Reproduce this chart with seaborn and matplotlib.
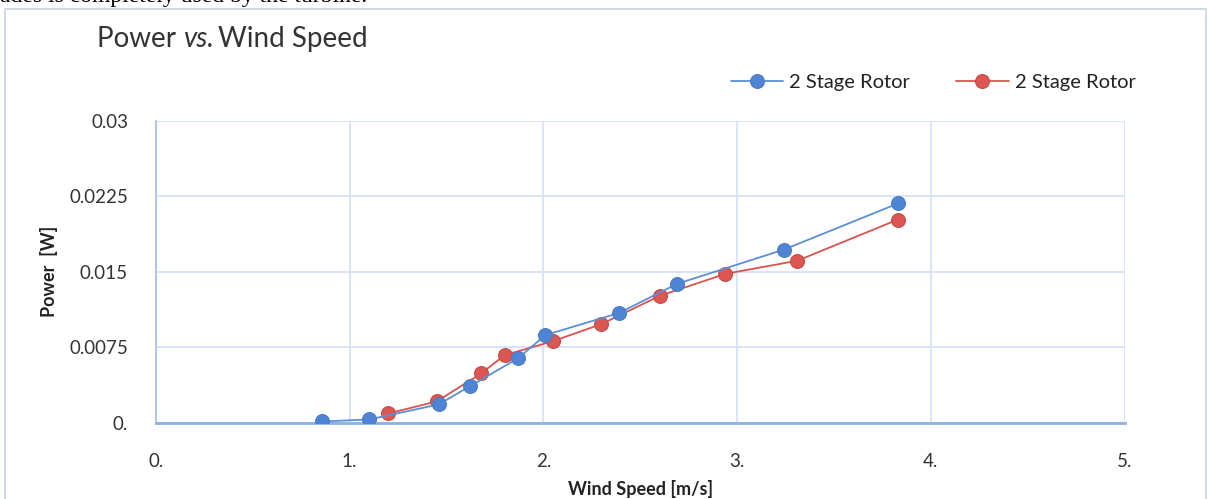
import matplotlib
matplotlib.use('Agg')
import matplotlib.pyplot as plt
import seaborn as sns
import pandas as pd
from matplotlib.patches import Rectangle

# values
speed_a = [0.86, 1.10, 1.46, 1.62, 1.87, 2.01, 2.39, 2.69, 3.24, 3.83]
power_a = [0.0001, 0.0003, 0.0018, 0.0036, 0.0064, 0.0087, 0.0109, 0.0138, 0.0172, 0.0218]
speed_b = [1.20, 1.45, 1.68, 1.80, 2.05, 2.30, 2.60, 2.94, 3.31, 3.83]
power_b = [0.0009, 0.0021, 0.0049, 0.0067, 0.0081, 0.0098, 0.0126, 0.0148, 0.0161, 0.0202]
series_names = ['2 Stage Rotor', '2 Stage Rotor']

x_ticks = [0, 1, 2, 3, 4, 5]
x_labels = ['0.', '1.', '2.', '3.', '4.', '5.']
y_ticks = [0, 0.0075, 0.015, 0.0225, 0.03]
y_labels = ['0.', '0.0075', '0.015', '0.0225', '0.03']

sns.set_style('white')
plt.rcParams['font.family'] = ['Lato', 'DejaVu Sans']

fig = plt.figure(figsize=(12.08, 4.99), dpi=100)
ax = fig.add_axes([0.129, 0.1533, 0.802, 0.604])

# outer chart frame and the clipped sentence above it
fig.patches.append(Rectangle((5 / 1208, -0.01), 1201 / 1208, 1 - 9 / 499 + 0.01,
                             transform=fig.transFigure, fill=False,
                             edgecolor='#c9d3e3', linewidth=1.2))
fig.text(0.0, 1 - 2 / 499, 'ades is completely used by the turbine.', family='Liberation Serif',
         fontsize=17, va='baseline', ha='left', color='black')

df_a = pd.DataFrame({'speed': speed_a, 'power': power_a})
df_b = pd.DataFrame({'speed': speed_b, 'power': power_b})
sns.lineplot(data=df_a, x='speed', y='power', ax=ax, sort=False, color='#5b8fd6',
             marker='o', markersize=10, markerfacecolor='#4f84d4', markeredgecolor='#4a7bc4',
             linewidth=1.3, label=series_names[0], zorder=4)
sns.lineplot(data=df_b, x='speed', y='power', ax=ax, sort=False, color='#d9534f',
             marker='o', markersize=10, markerfacecolor='#dc5652', markeredgecolor='#c24a46',
             linewidth=1.3, label=series_names[1], zorder=3)

ax.set_xlim(0, 5)
ax.set_ylim(0, 0.03)
ax.set_xticks(x_ticks)
ax.set_xticklabels(x_labels)
ax.set_yticks(y_ticks)
ax.set_yticklabels(y_labels)
ax.grid(True, color='#d6e2f3', linewidth=1.3)
ax.set_axisbelow(True)
for side in ['top', 'right']:
    ax.spines[side].set_visible(False)
ax.spines['bottom'].set_color('#8fb0e0')
ax.spines['bottom'].set_linewidth(2)
ax.spines['left'].set_color('#a9c2e8')
ax.spines['left'].set_linewidth(1.3)
ax.tick_params(axis='both', length=0, labelsize=13.5, colors='#333333')
ax.tick_params(axis='x', pad=22)
ax.tick_params(axis='y', pad=20)

ax.set_xlabel('Wind Speed [m/s]', fontsize=13, fontweight='bold', color='#222222', labelpad=7)
ax.set_ylabel('Power  [W]', fontsize=13, fontweight='bold', color='#222222', labelpad=8)

# title with an italic "vs."
fig.text(97 / 1208, 1 - 47 / 499, 'Power ', fontsize=20, color='#333333', va='baseline')
fig.canvas.draw()
r = fig.canvas.get_renderer()
w1 = fig.texts[-1].get_window_extent(r).width
x2 = 97 + w1
t2 = fig.text(x2 / 1208, 1 - 47 / 499, 'vs.', fontsize=20, style='italic', color='#333333', va='baseline')
w2 = t2.get_window_extent(r).width
fig.text((x2 + w2 + 4) / 1208, 1 - 47 / 499, 'Wind Speed', fontsize=20, color='#333333', va='baseline')

ax.legend(loc='center right', bbox_to_anchor=(1.03, 1.129), ncol=2, frameon=False,
          fontsize=14.5, handlelength=2.6, columnspacing=2.3, handletextpad=0.3,
          labelcolor='#222222')

fig.savefig('out.png', dpi=100)
